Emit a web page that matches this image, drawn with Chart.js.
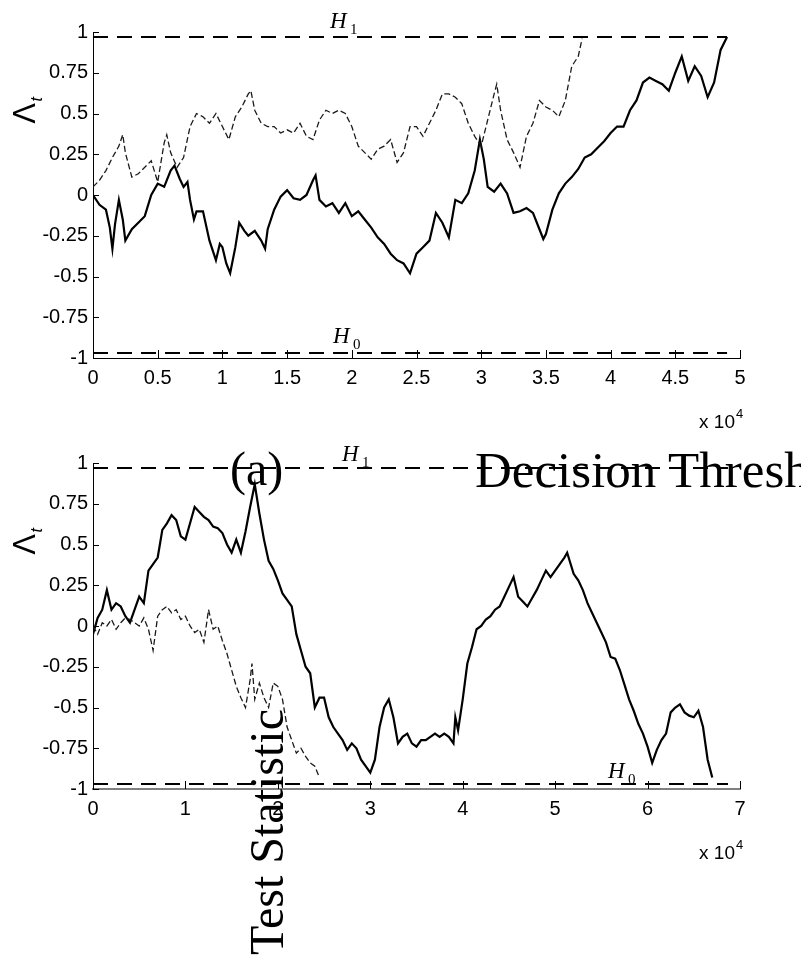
<!DOCTYPE html>
<html lang="en">
<head>
<meta charset="UTF-8">
<title>Test Statistic</title>
<script src="https://cdn.jsdelivr.net/npm/chart.js"></script>
<style>
  body { margin: 0; background: #fff; width: 801px; height: 959px; position: relative; overflow: hidden; }
  canvas { position: absolute; left: 0; }
  #topChart { top: 0; }
  #bottomChart { top: 440px; }
  .note { position: absolute; font-family: 'Liberation Serif', 'Times New Roman', serif; font-size: 48px; line-height: 48px; white-space: nowrap; color: #000; }
  #caption { left: 230px; top: 445px; }
  #threshold { left: 475px; top: 445px; font-size: 51px; line-height: 51px; }
  #statistic { left: 243px; top: 955px; transform-origin: 0 0; transform: rotate(-90deg); }
</style>
</head>
<body>
<canvas id="topChart" width="801" height="440"></canvas>
<canvas id="bottomChart" width="801" height="519"></canvas>
<div class="note" id="caption">(a)</div>
<div class="note" id="threshold">Decision Threshold</div>
<div class="note" id="statistic">Test Statistic</div>
<script>
// time axis is in units of 10^4 samples
const topSolidT = [0, 0.05, 0.1, 0.13, 0.15, 0.17, 0.2, 0.23, 0.25, 0.3, 0.35, 0.4, 0.45, 0.5, 0.55, 0.6, 0.63, 0.67, 0.7, 0.73,
  0.75, 0.78, 0.8, 0.85, 0.9, 0.95, 0.98, 1.0, 1.03, 1.06, 1.1, 1.13, 1.17, 1.2, 1.25, 1.3, 1.33, 1.35, 1.4, 1.45,
  1.5, 1.55, 1.6, 1.65, 1.7, 1.72, 1.75, 1.8, 1.85, 1.9, 1.95, 2.0, 2.05, 2.1, 2.15, 2.2, 2.25, 2.3, 2.35, 2.4,
  2.45, 2.5, 2.55, 2.6, 2.65, 2.7, 2.75, 2.8, 2.85, 2.9, 2.95, 2.99, 3.02, 3.05, 3.1, 3.15, 3.2, 3.25, 3.3, 3.35,
  3.4, 3.45, 3.48, 3.5, 3.55, 3.6, 3.65, 3.7, 3.75, 3.8, 3.85, 3.9, 3.95, 4.0, 4.05, 4.1, 4.15, 4.2, 4.25, 4.3,
  4.35, 4.4, 4.45, 4.5, 4.55, 4.6, 4.65, 4.7, 4.75, 4.8, 4.85, 4.9];
const topSolidV = [0, -0.06, -0.09, -0.2, -0.33, -0.18, -0.03, -0.15, -0.28, -0.21, -0.17, -0.13, 0.0, 0.07, 0.05, 0.15, 0.18, 0.1, 0.05, 0.08,
  -0.03, -0.15, -0.1, -0.1, -0.28, -0.4, -0.3, -0.32, -0.42, -0.48, -0.32, -0.17, -0.22, -0.25, -0.22, -0.28, -0.33, -0.21, -0.09, -0.01,
  0.03, -0.02, -0.03, 0.0, 0.09, 0.12, -0.03, -0.07, -0.05, -0.11, -0.05, -0.13, -0.1, -0.15, -0.2, -0.26, -0.3, -0.36, -0.4, -0.42,
  -0.48, -0.36, -0.32, -0.28, -0.11, -0.17, -0.26, -0.03, -0.05, 0.01, 0.15, 0.34, 0.22, 0.05, 0.02, 0.07, 0.01, -0.11, -0.1, -0.08,
  -0.11, -0.21, -0.27, -0.24, -0.09, 0.01, 0.07, 0.11, 0.16, 0.23, 0.25, 0.29, 0.33, 0.38, 0.42, 0.42, 0.52, 0.58, 0.69, 0.72,
  0.7, 0.68, 0.64, 0.75, 0.85, 0.7, 0.79, 0.73, 0.6, 0.69, 0.89, 0.97];

const topDashT = [0, 0.05, 0.1, 0.15, 0.2, 0.23, 0.25, 0.3, 0.35, 0.4, 0.45, 0.5, 0.55, 0.57, 0.6, 0.65, 0.7, 0.75, 0.8, 0.85,
  0.9, 0.95, 1.0, 1.05, 1.1, 1.15, 1.2, 1.22, 1.25, 1.3, 1.35, 1.4, 1.45, 1.5, 1.55, 1.6, 1.65, 1.7, 1.75, 1.8,
  1.85, 1.9, 1.95, 2.0, 2.05, 2.1, 2.15, 2.2, 2.25, 2.3, 2.35, 2.4, 2.45, 2.5, 2.55, 2.6, 2.65, 2.7, 2.75, 2.8,
  2.85, 2.9, 2.95, 3.0, 3.05, 3.1, 3.12, 3.15, 3.2, 3.25, 3.3, 3.35, 3.4, 3.45, 3.5, 3.55, 3.6, 3.65, 3.7, 3.75, 3.78];
const topDashV = [0.05, 0.09, 0.15, 0.23, 0.3, 0.37, 0.26, 0.11, 0.13, 0.17, 0.21, 0.08, 0.32, 0.37, 0.26, 0.17, 0.23, 0.42, 0.5, 0.48,
  0.44, 0.5, 0.42, 0.34, 0.48, 0.54, 0.62, 0.64, 0.52, 0.44, 0.42, 0.42, 0.38, 0.4, 0.38, 0.44, 0.36, 0.34, 0.46, 0.52,
  0.5, 0.52, 0.5, 0.42, 0.3, 0.26, 0.22, 0.28, 0.3, 0.34, 0.2, 0.26, 0.42, 0.42, 0.36, 0.44, 0.52, 0.62, 0.62, 0.6,
  0.56, 0.44, 0.36, 0.3, 0.46, 0.62, 0.68, 0.52, 0.34, 0.26, 0.17, 0.36, 0.44, 0.58, 0.54, 0.52, 0.48, 0.58, 0.79, 0.85, 0.96];

const bottomSolidT = [0, 0.05, 0.1, 0.15, 0.2, 0.25, 0.3, 0.35, 0.4, 0.45, 0.5, 0.55, 0.6, 0.65, 0.7, 0.75, 0.8, 0.85, 0.9, 0.95,
  1.0, 1.05, 1.1, 1.15, 1.2, 1.25, 1.3, 1.35, 1.4, 1.45, 1.5, 1.55, 1.6, 1.65, 1.7, 1.75, 1.8, 1.85, 1.9, 1.95,
  2.0, 2.05, 2.1, 2.15, 2.2, 2.25, 2.3, 2.35, 2.4, 2.45, 2.5, 2.55, 2.6, 2.65, 2.7, 2.75, 2.8, 2.85, 2.9, 2.95,
  3.0, 3.05, 3.1, 3.15, 3.2, 3.25, 3.3, 3.35, 3.4, 3.45, 3.5, 3.55, 3.6, 3.65, 3.7, 3.75, 3.8, 3.85, 3.9, 3.92,
  3.95, 4.0, 4.05, 4.1, 4.15, 4.2, 4.25, 4.3, 4.35, 4.4, 4.45, 4.5, 4.55, 4.6, 4.65, 4.7, 4.75, 4.8, 4.85, 4.9,
  4.95, 5.0, 5.05, 5.1, 5.13, 5.2, 5.25, 5.3, 5.35, 5.4, 5.45, 5.5, 5.55, 5.6, 5.65, 5.7, 5.75, 5.8, 5.85, 5.9,
  5.95, 6.0, 6.05, 6.1, 6.15, 6.2, 6.25, 6.3, 6.35, 6.4, 6.45, 6.5, 6.55, 6.6, 6.65, 6.7];
const bottomSolidV = [-0.05, 0.05, 0.1, 0.22, 0.1, 0.14, 0.12, 0.06, 0.02, 0.1, 0.18, 0.14, 0.34, 0.38, 0.42, 0.59, 0.63, 0.68, 0.65, 0.55,
  0.53, 0.63, 0.73, 0.7, 0.67, 0.65, 0.61, 0.6, 0.57, 0.5, 0.45, 0.53, 0.45, 0.58, 0.73, 0.87, 0.69, 0.53, 0.4, 0.35,
  0.28, 0.2, 0.16, 0.12, -0.05, -0.15, -0.25, -0.29, -0.5, -0.44, -0.44, -0.56, -0.62, -0.66, -0.7, -0.76, -0.72, -0.75, -0.82, -0.86,
  -0.9, -0.82, -0.62, -0.5, -0.45, -0.56, -0.72, -0.68, -0.66, -0.72, -0.74, -0.7, -0.7, -0.68, -0.66, -0.68, -0.66, -0.68, -0.72, -0.56,
  -0.64, -0.45, -0.23, -0.13, -0.02, 0.0, 0.04, 0.06, 0.1, 0.12, 0.18, 0.24, 0.3, 0.18, 0.15, 0.12, 0.17, 0.22, 0.28, 0.34,
  0.3, 0.34, 0.38, 0.42, 0.45, 0.32, 0.28, 0.22, 0.14, 0.08, 0.02, -0.04, -0.1, -0.19, -0.2, -0.27, -0.36, -0.45, -0.52, -0.6,
  -0.66, -0.74, -0.84, -0.76, -0.7, -0.66, -0.53, -0.5, -0.48, -0.53, -0.55, -0.56, -0.52, -0.62, -0.82, -0.93];

const bottomDashT = [0, 0.05, 0.1, 0.15, 0.2, 0.25, 0.3, 0.35, 0.4, 0.45, 0.5, 0.55, 0.6, 0.65, 0.7, 0.75, 0.8, 0.85, 0.9, 0.95,
  1.0, 1.05, 1.1, 1.15, 1.2, 1.25, 1.3, 1.35, 1.4, 1.45, 1.5, 1.55, 1.6, 1.65, 1.7, 1.72, 1.75, 1.8, 1.85, 1.9,
  1.95, 2.0, 2.05, 2.1, 2.15, 2.2, 2.25, 2.3, 2.35, 2.4, 2.45];
const bottomDashV = [0, -0.05, 0.02, 0.0, 0.04, -0.02, 0.02, 0.05, 0.04, 0.02, 0.0, 0.05, -0.02, -0.15, 0.06, 0.1, 0.12, 0.08, 0.1, 0.04,
  0.06, 0.0, -0.04, -0.02, -0.1, 0.1, -0.02, 0.0, -0.09, -0.17, -0.27, -0.37, -0.44, -0.5, -0.33, -0.23, -0.45, -0.35, -0.44, -0.5,
  -0.35, -0.37, -0.45, -0.62, -0.7, -0.78, -0.75, -0.8, -0.84, -0.86, -0.93];

// decision thresholds H1 / H0 and how far each dashed line runs
const thresholdH1 = 0.97;
const thresholdH0 = -0.97;
const topThresholdEnd = 4.9;
const bottomThresholdEnd = 6.87;

const yTickLabels = ['-1', '-0.75', '-0.5', '-0.25', '0', '0.25', '0.5', '0.75', '1'];
const topXLabels = ['0', '0.5', '1', '1.5', '2', '2.5', '3', '3.5', '4', '4.5', '5'];
const bottomXLabels = ['0', '1', '2', '3', '4', '5', '6', '7'];

Chart.defaults.font.family = "'Liberation Sans', Arial, sans-serif";
Chart.defaults.font.size = 20;
Chart.defaults.color = '#000';

function pairs(t, v) {
  return t.map((x, i) => ({ x: x, y: v[i] }));
}

// inward tick marks, the rotated Lambda_t label, H0/H1 tags and the x 10^4 multiplier
const panelDecor = {
  id: 'panelDecor',
  afterDraw(chart, args, opts) {
    const ctx = chart.ctx;
    const xs = chart.scales.x, ys = chart.scales.y;
    const area = chart.chartArea;
    ctx.save();
    ctx.strokeStyle = '#000';
    ctx.lineWidth = 1;
    ctx.beginPath();
    ys.ticks.forEach(t => {
      const py = Math.round(ys.getPixelForValue(t.value)) + 0.5;
      ctx.moveTo(area.left, py);
      ctx.lineTo(area.left + 6, py);
    });
    xs.ticks.forEach(t => {
      const px = Math.round(xs.getPixelForValue(t.value)) + 0.5;
      ctx.moveTo(px, area.bottom);
      ctx.lineTo(px, area.bottom - 8);
    });
    ctx.stroke();

    // Lambda_t, rotated
    ctx.save();
    ctx.translate(35, ys.getPixelForValue(0.5));
    ctx.rotate(-Math.PI / 2);
    ctx.fillStyle = '#000';
    ctx.textAlign = 'center';
    ctx.textBaseline = 'alphabetic';
    ctx.font = "31px 'Liberation Sans', Arial, sans-serif";
    ctx.fillText('\u039B', 0, 0);
    ctx.textAlign = 'left';
    ctx.font = "italic 16px 'Liberation Sans', Arial, sans-serif";
    ctx.fillText('t', 12, 7);
    ctx.restore();

    // hypothesis tags above the threshold lines
    ctx.fillStyle = '#000';
    ctx.textAlign = 'left';
    ctx.textBaseline = 'alphabetic';
    opts.tags.forEach(tag => {
      const base = ys.getPixelForValue(tag.level) - tag.lift;
      ctx.font = "italic 23px 'Liberation Serif', 'Times New Roman', serif";
      ctx.fillText('H', tag.x, base);
      ctx.font = "15px 'Liberation Serif', 'Times New Roman', serif";
      ctx.fillText(tag.sub, tag.x + 20, base + 6);
    });

    // axis multiplier
    ctx.font = "19px 'Liberation Sans', Arial, sans-serif";
    ctx.textAlign = 'right';
    ctx.fillText('x 10', area.right - 5, area.bottom + 70);
    ctx.textAlign = 'left';
    ctx.font = "13px 'Liberation Sans', Arial, sans-serif";
    ctx.fillText('4', area.right - 4, area.bottom + 60);
    ctx.restore();
  }
};

function makePanel(id, cfg) {
  return new Chart(document.getElementById(id), {
    type: 'line',
    data: {
      datasets: [
        { data: [{ x: 0, y: thresholdH1 }, { x: cfg.thrEnd, y: thresholdH1 }], borderColor: '#000', borderWidth: 2, borderDash: [15, 9] },
        { data: [{ x: 0, y: thresholdH0 }, { x: cfg.thrEnd, y: thresholdH0 }], borderColor: '#000', borderWidth: 2, borderDash: [15, 9] },
        { data: pairs(cfg.dashT, cfg.dashV), borderColor: '#1a1a1a', borderWidth: 1.3, borderDash: [6, 3] },
        { data: pairs(cfg.solidT, cfg.solidV), borderColor: '#000', borderWidth: 2.2 }
      ]
    },
    options: {
      responsive: false,
      animation: false,
      parsing: false,
      elements: { point: { radius: 0 }, line: { tension: 0 } },
      layout: { padding: { left: 0, top: cfg.top, right: 61, bottom: cfg.bottom } },
      plugins: {
        legend: { display: false },
        tooltip: { enabled: false },
        panelDecor: { tags: cfg.tags }
      },
      scales: {
        x: {
          type: 'linear',
          min: 0,
          max: cfg.xMax,
          grid: { display: false, drawTicks: false },
          border: { display: true, color: cfg.xAxisColor, width: cfg.xAxisWidth },
          ticks: {
            stepSize: cfg.xStep,
            padding: 8,
            maxRotation: 0,
            autoSkip: false,
            callback: (v, i) => cfg.xLabels[i]
          },
          afterFit: s => { s.height = 40; }
        },
        y: {
          min: -1,
          max: 1,
          grid: { display: false, drawTicks: false },
          border: { display: true, color: '#000', width: 1 },
          ticks: {
            stepSize: 0.25,
            padding: 5,
            autoSkip: false,
            callback: (v, i) => yTickLabels[i]
          },
          afterFit: s => { s.width = 93; }
        }
      }
    },
    plugins: [panelDecor]
  });
}

makePanel('topChart', {
  top: 32, bottom: 42, xMax: 5, xStep: 0.5, xLabels: topXLabels,
  xAxisColor: '#000', xAxisWidth: 1, thrEnd: topThresholdEnd,
  solidT: topSolidT, solidV: topSolidV, dashT: topDashT, dashV: topDashV,
  tags: [{ x: 330, level: thresholdH1, lift: 9, sub: '1' }, { x: 333, level: thresholdH0, lift: 10, sub: '0' }]
});

makePanel('bottomChart', {
  top: 23, bottom: 130, xMax: 7, xStep: 1, xLabels: bottomXLabels,
  xAxisColor: '#808080', xAxisWidth: 2, thrEnd: bottomThresholdEnd,
  solidT: bottomSolidT, solidV: bottomSolidV, dashT: bottomDashT, dashV: bottomDashV,
  tags: [{ x: 342, level: thresholdH1, lift: 7, sub: '1' }, { x: 608, level: thresholdH0, lift: 6, sub: '0' }]
});
</script>
</body>
</html>
